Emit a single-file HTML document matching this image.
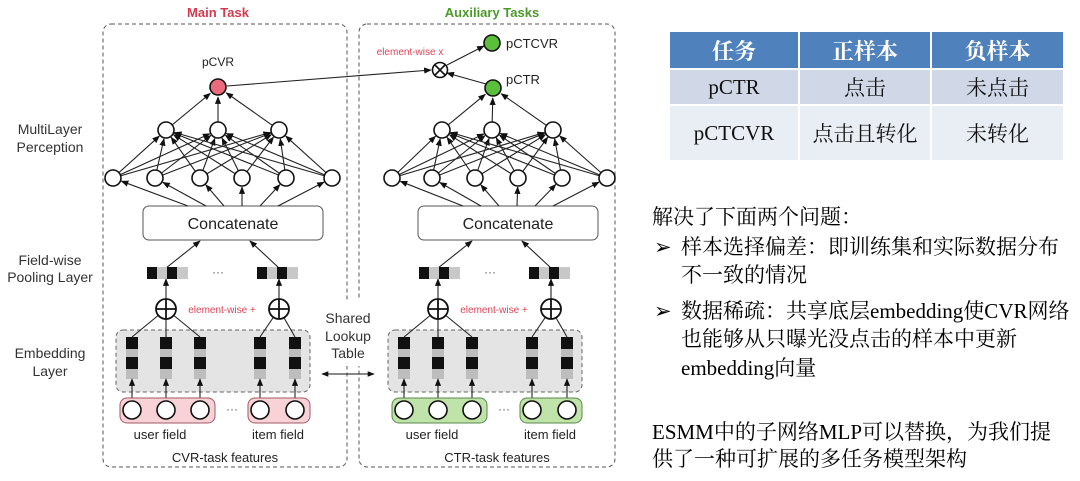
<!DOCTYPE html>
<html><head><meta charset="utf-8"><style>
html,body{margin:0;padding:0;background:#fff;width:1080px;height:481px;overflow:hidden}
svg{position:absolute;left:0;top:0}
.t{font-family:"Liberation Sans",sans-serif}
#tbl{position:absolute;left:668px;top:30px;border-collapse:collapse;font-family:"Liberation Serif","Noto Serif CJK SC",serif;font-size:21px;color:#111}
#tbl td{text-align:center;padding:0;border:2px solid #fff}
.txt{position:absolute;left:652px;font-family:"Liberation Serif","Noto Serif CJK SC",serif;font-size:21px;color:#000;white-space:nowrap;line-height:28px}
</style></head><body>
<svg id="s" width="1080" height="481" viewBox="0 0 1080 481">
<defs><marker id="a" viewBox="0 0 10 10" refX="9" refY="5" markerWidth="7" markerHeight="7" orient="auto-start-reverse"><path d="M0,1 L10,5 L0,9 z" fill="#111"/></marker></defs>
<g class="t" text-anchor="middle" fill="#333" font-size="14">
<text x="218" y="17" fill="#d33a4d" font-weight="bold" font-size="13">Main Task</text>
<text x="492" y="17" fill="#4a9a2a" font-weight="bold" font-size="13">Auxiliary Tasks</text>
<text x="50" y="134">MultiLayer</text><text x="50" y="152">Perception</text>
<text x="50" y="265">Field-wise</text><text x="50" y="282">Pooling Layer</text>
<text x="50" y="358">Embedding</text><text x="50" y="376">Layer</text>
</g>
<rect x="103" y="24" width="244" height="443" rx="8" fill="none" stroke="#555" stroke-dasharray="4,3"/>
<rect x="359" y="24" width="256" height="443" rx="8" fill="none" stroke="#555" stroke-dasharray="4,3"/>
<rect x="318" y="300" width="60" height="66" fill="#fff"/>
<g class="t" text-anchor="middle" fill="#333" font-size="14">
<text x="348" y="323">Shared</text><text x="348" y="341">Lookup</text><text x="348" y="358">Table</text>
</g>
<line x1="322" y1="374" x2="374" y2="374" stroke="#111" marker-start="url(#a)" marker-end="url(#a)"/>
<g id="g"></g>
</svg>
<table id="tbl">
<tr style="background:#4f81bd;color:#fff;height:38px;font-weight:bold;font-size:22px"><td style="width:128px">任务</td><td style="width:130px">正样本</td><td style="width:131px">负样本</td></tr>
<tr style="background:#d0d8e8;height:36px"><td>pCTR</td><td>点击</td><td>未点击</td></tr>
<tr style="background:#e9edf4;height:56px"><td>pCTCVR</td><td>点击且转化</td><td>未转化</td></tr>
</table>
<div class="txt" style="top:203px">解决了下面两个问题：</div>
<div class="txt" style="top:233px;left:654px">➢</div><div class="txt" style="top:233px;left:681px">样本选择偏差：即训练集和实际数据分布</div>
<div class="txt" style="top:261px;left:681px">不一致的情况</div>
<div class="txt" style="top:297px;left:654px">➢</div><div class="txt" style="top:297px;left:681px">数据稀疏：共享底层embedding使CVR网络</div>
<div class="txt" style="top:325px;left:681px">也能够从只曝光没点击的样本中更新</div>
<div class="txt" style="top:354px;left:681px">embedding向量</div>
<div class="txt" style="top:418px">ESMM中的子网络MLP可以替换，为我们提</div>
<div class="txt" style="top:445px">供了一种可扩展的多任务模型架构</div>
<script>
var g=document.getElementById('g'),h='';
function L(x1,y1,x2,y2,ar){h+='<line x1="'+x1+'" y1="'+y1+'" x2="'+x2+'" y2="'+y2+'" stroke="#222" stroke-width="1.1"'+(ar?' marker-end="url(#a)"':'')+'/>';}
function C(x,y,r,f){h+='<circle cx="'+x+'" cy="'+y+'" r="'+r+'" fill="'+(f||'#fff')+'" stroke="#111" stroke-width="1.6"/>';}
function T(x,y,s,fs,c,anc){h+='<text class="t" x="'+x+'" y="'+y+'" font-size="'+fs+'" fill="'+(c||'#333')+'" text-anchor="'+(anc||'middle')+'">'+s+'</text>';}
function to(x1,y1,x2,y2,r){var dx=x2-x1,dy=y2-y1,d=Math.hypot(dx,dy);L(x1,y1,x2-dx/d*r,y2-dy/d*r,1);}
function tower(bot,mid,top,tc,cx){
 var cl=cx-90;
 h+='<rect x="'+cl+'" y="206" width="180" height="34" rx="6" fill="#fff" stroke="#555"/>';
 T(cx,229,'Concatenate',16,'#222');
 bot.forEach(function(x,i){var sx=cx-45+i*18;to(sx,206,x,178,9);});
 bot.forEach(function(b){mid.forEach(function(m){to(b,178,m,130,9);});});
 mid.forEach(function(m){to(m,130,top[0],top[1],10);});
 bot.forEach(function(x){C(x,178,8);});mid.forEach(function(x){C(x,130,8);});
 C(top[0],top[1],8,tc);
}
function lower(o,fill,stroke,lab){
 var cx=218+o;
 L(166+o,268,200+o,241,1);L(279+o,268,250+o,241,1);
 [147,257].forEach(function(x){x+=o;h+='<rect x="'+x+'" y="267" width="41" height="12" fill="#c8c8c8"/><rect x="'+x+'" y="267" width="10" height="12" fill="#111"/><rect x="'+(x+20)+'" y="267" width="10" height="12" fill="#111"/>';});
 T(cx,276,'···',12,'#555');
 h+='<rect x="'+(116+o)+'" y="330" width="194" height="62" rx="7" fill="#e4e4e4" stroke="#666" stroke-dasharray="4,3"/>';
 var cols=[132,166,200,260,295];
 [[166,[132,166,200]],[279,[260,295]]].forEach(function(p){var px=p[0]+o;p[1].forEach(function(c){L(c+o,337,px,309);});to(px,299,px,279,0);});
 cols.forEach(function(c){c+=o;h+='<rect x="'+(c-6)+'" y="337" width="12" height="42" fill="#bdbdbd"/><rect x="'+(c-6)+'" y="337" width="12" height="12" fill="#111"/><rect x="'+(c-6)+'" y="357" width="12" height="12" fill="#111"/>';to(c,401,c,379,0);});
 [166,279].forEach(function(x){x+=o;h+='<circle cx="'+x+'" cy="309" r="10" fill="#fff" stroke="#111" stroke-width="1.8"/><line x1="'+(x-10)+'" y1="309" x2="'+(x+10)+'" y2="309" stroke="#111" stroke-width="1.8"/><line x1="'+x+'" y1="299" x2="'+x+'" y2="319" stroke="#111" stroke-width="1.8"/>';});
 T(222+o,313,'element-wise +',10,'#d9475a');
 h+='<rect x="'+(120+o)+'" y="398" width="95" height="25" rx="7" fill="'+fill+'" stroke="'+stroke+'"/><rect x="'+(248+o)+'" y="398" width="62" height="25" rx="7" fill="'+fill+'" stroke="'+stroke+'"/>';
 cols.forEach(function(c){C(c+o,410,9);});
 T(232+o,413,'···',12,'#555');
 T(160+o,439,'user field',13,'#222');T(278+o,439,'item field',13,'#222');
 T(225+o,462,lab,13,'#222');
}
tower([113,155,200,242,286,332],[166,218,279],[218,87],'#ec6a7d',233);
tower([392,432,475,518,562,607],[442,492,553],[493,88],'#5cbf3c',508);
lower(0,'#f8d2d6','#a05a64','CVR-task features');
lower(272,'#bfe3a8','#5a8a4a','CTR-task features');
T(218,66,'pCVR',12,'#222');
L(227,86,431,70,1);
to(486,84,447,73,0);
to(447,65,484,46,0);
C(492,43,8,'#5cbf3c');
h+='<circle cx="440" cy="70" r="7.5" fill="#fff" stroke="#111" stroke-width="1.6"/><line x1="435" y1="65" x2="445" y2="75" stroke="#111" stroke-width="1.6"/><line x1="445" y1="65" x2="435" y2="75" stroke="#111" stroke-width="1.6"/>';
T(506,48,'pCTCVR',13,'#222','start');T(506,84,'pCTR',13,'#222','start');
T(410,55,'element-wise x',10,'#d9475a');
g.innerHTML=h;
</script>
</body></html>
